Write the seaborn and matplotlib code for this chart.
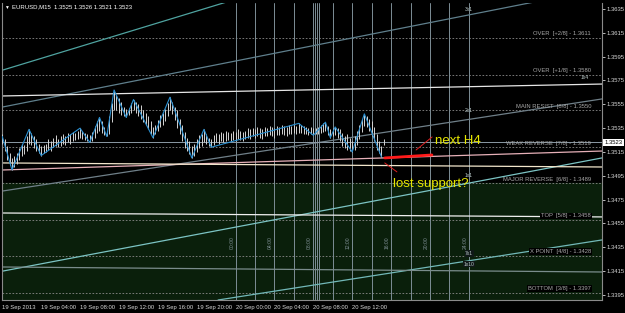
import numpy as np
import pandas as pd
import matplotlib
matplotlib.use("Agg")
import matplotlib.pyplot as plt
import seaborn as sns

# ---------------- data ----------------
header_text = "EURUSD,M15  1.3525 1.3526 1.3521 1.3523"
current_price = 1.3523

bar_high = [1.3530,1.3526,1.3520,1.3514,1.3510,1.3512,1.3514,1.3518,1.3522,1.3521,
            1.3528,1.3534,1.3531,1.3528,1.3526,1.3522,1.3520,1.3521,1.3522,1.3526,
            1.3524,1.3527,1.3529,1.3526,1.3528,1.3530,1.3528,1.3531,1.3530,1.3532,
            1.3531,1.3533,1.3535,1.3533,1.3531,1.3530,1.3529,1.3532,1.3537,1.3541,
            1.3544,1.3541,1.3536,1.3533,1.3545,1.3556,1.3567,1.3563,1.3560,1.3557,
            1.3553,1.3551,1.3552,1.3556,1.3559,1.3557,1.3555,1.3554,1.3550,1.3548,
            1.3545,1.3541,1.3536,1.3538,1.3542,1.3546,1.3548,1.3551,1.3556,1.3561,
            1.3557,1.3553,1.3550,1.3543,1.3538,1.3532,1.3527,1.3524,1.3520,1.3522,
            1.3526,1.3529,1.3530,1.3534,1.3530,1.3527,1.3526,1.3529,1.3531,1.3530,
            1.3532,1.3531,1.3533,1.3532,1.3531,1.3533,1.3532,1.3534,1.3533,1.3532,
            1.3533,1.3535,1.3534,1.3535,1.3534,1.3536,1.3535,1.3534,1.3536,1.3535,
            1.3537,1.3536,1.3535,1.3537,1.3536,1.3538,1.3537,1.3536,1.3538,1.3537,
            1.3538,1.3537,1.3539,1.3538,1.3537,1.3536,1.3535,1.3536,1.3535,1.3535,
            1.3536,1.3538,1.3539,1.3540,1.3537,1.3534,1.3535,1.3536,1.3535,1.3534,
            1.3531,1.3528,1.3530,1.3527,1.3524,1.3528,1.3533,1.3538,1.3543,1.3547,
            1.3545,1.3543,1.3541,1.3536,1.3530,1.3524,1.3520,1.3526]
bar_low = [1.3522,1.3516,1.3508,1.3504,1.3500,1.3502,1.3505,1.3508,1.3512,1.3513,
           1.3516,1.3522,1.3521,1.3518,1.3516,1.3514,1.3512,1.3514,1.3515,1.3517,
           1.3516,1.3519,1.3520,1.3519,1.3520,1.3522,1.3521,1.3523,1.3522,1.3524,
           1.3525,1.3526,1.3527,1.3526,1.3525,1.3524,1.3523,1.3524,1.3527,1.3531,
           1.3533,1.3531,1.3529,1.3528,1.3530,1.3540,1.3550,1.3550,1.3548,1.3546,
           1.3545,1.3544,1.3546,1.3548,1.3550,1.3548,1.3545,1.3543,1.3540,1.3538,
           1.3534,1.3530,1.3527,1.3530,1.3533,1.3536,1.3538,1.3541,1.3545,1.3550,
           1.3547,1.3542,1.3535,1.3530,1.3524,1.3518,1.3516,1.3513,1.3510,1.3512,
           1.3515,1.3518,1.3520,1.3523,1.3522,1.3520,1.3519,1.3521,1.3523,1.3522,
           1.3524,1.3523,1.3524,1.3525,1.3524,1.3525,1.3524,1.3526,1.3525,1.3524,
           1.3526,1.3527,1.3526,1.3528,1.3527,1.3528,1.3527,1.3526,1.3528,1.3528,
           1.3529,1.3528,1.3527,1.3529,1.3529,1.3530,1.3529,1.3528,1.3530,1.3530,
           1.3531,1.3530,1.3531,1.3531,1.3530,1.3530,1.3529,1.3530,1.3529,1.3530,
           1.3530,1.3531,1.3532,1.3533,1.3529,1.3527,1.3528,1.3529,1.3527,1.3524,
           1.3520,1.3518,1.3517,1.3516,1.3515,1.3517,1.3521,1.3526,1.3532,1.3537,
           1.3536,1.3533,1.3528,1.3524,1.3517,1.3514,1.3511,1.3521]

zz_bar = [0, 4, 11, 16, 32, 36, 40, 43, 46, 51, 54, 62, 69, 78, 83, 86,
          122, 128, 133, 135, 137, 144, 149, 156]
zz_price = [1.3528, 1.3500, 1.3534, 1.3512, 1.3535, 1.3523, 1.3544, 1.3528,
            1.3567, 1.3544, 1.3559, 1.3527, 1.3561, 1.3510, 1.3534, 1.3519,
            1.3539, 1.3529, 1.3540, 1.3527, 1.3536, 1.3515, 1.3547, 1.3511]

x_tick_bars = [0, 16, 32, 48, 64, 80, 96, 112, 128, 144]
x_tick_labels = ["19 Sep 2013", "19 Sep 04:00", "19 Sep 08:00", "19 Sep 12:00",
                 "19 Sep 16:00", "19 Sep 20:00", "20 Sep 00:00", "20 Sep 04:00",
                 "20 Sep 08:00", "20 Sep 12:00"]
y_ticks = [1.3635, 1.3615, 1.3595, 1.3575, 1.3555, 1.3535, 1.3515,
           1.3495, 1.3475, 1.3455, 1.3435, 1.3415, 1.3395]

level_names = ["OVER  [+2/8]", "OVER  [+1/8]", "MAIN RESIST  [8/8]",
               "WEAK REVERSE  [7/8]", "MAJOR REVERSE  [6/8]", "TOP  [5/8]",
               "X POINT  [4/8]", "BOTTOM  [3/8]"]
level_prices = [1.3611, 1.3580, 1.3550, 1.3519, 1.3489, 1.3458, 1.3428, 1.3397]
level_boxed = [False, False, False, False, False, True, True, True]
green_zone_top = 1.3489

# vertical time separators (bar index) and their labels
vline_bars = [96, 104, 112, 120, 128, 136, 144, 152, 160, 168, 176, 184, 192]
extra_vline_bars = [128.8, 129.6, 130.4]
vlabel_bars = [96, 112, 128, 144, 160, 176, 192]
vlabel_texts = ["00:00", "04:00", "08:00", "12:00", "16:00", "20:00", "24:00"]
vlabel_price = 1.34386

# trend / gann lines: start bar, start price, end bar, end price, colour
trend_x0 = [0.3, 0.3, 0.3, 0.3, 88.8, 0.3, 0.3, 0.3, 0.3, 0.3]
trend_p0 = [1.35838, 1.35528, 1.34823, 1.34151, 1.33908, 1.35620, 1.34638, 1.34185, 1.34999, 1.35058]
trend_x1 = [93.7, 223.3, 246.8, 246.8, 246.8, 246.8, 246.8, 246.8, 246.8, 246.8]
trend_p1 = [1.36417, 1.36426, 1.35595, 1.35100, 1.34412, 1.35720, 1.34605, 1.34143, 1.35158, 1.35024]
trend_col = ["#4fa3a0", "#5f7f8c", "#6f7f88", "#7cc4c4", "#72b8b8", "#e6e6e6",
             "#f0f0f0", "#7a8c8c", "#e6b0b8", "#f2e6cc"]

gann_label_text = ["3x1", "2x1", "1x1", "1x4", "7x1", "1x10"]
gann_label_bar = [192.1, 192.1, 192.1, 239.8, 192.1, 192.1]
gann_label_price = [1.36342, 1.35494, 1.34949, 1.35779, 1.34298, 1.34207]
gann_label_box = [False, False, False, False, True, True]

h4_x = [157.4, 176.8]
h4_p = [1.35100, 1.35125]
note_texts = ["next H4", "lost support?"]
note_bar = [178.0, 160.8]
note_price = [1.35240, 1.34885]
arrow_from = [(170.3, 1.35167), (157.4, 1.35058)]
arrow_to = [(176.9, 1.35276), (162.4, 1.34983)]

# ---------------- drawing ----------------
sns.set_theme(style="dark")
plt.rcParams["font.family"] = ["Liberation Sans", "DejaVu Sans"]

fig = plt.figure(figsize=(6.25, 3.13), dpi=100, facecolor="black")
ax = fig.add_axes([2 / 625, 13 / 313, 600 / 625, 297 / 313])
ax.set_facecolor("black")

xmin, xmax = -0.12, 246.8
ymin, ymax = 1.33908, 1.36400
ax.set_xlim(xmin, xmax)
ax.set_ylim(ymin, ymax)
ax.grid(False)

# green zone
ax.axhspan(ymin, green_zone_top, color="#0a1f0b", zorder=0)

# level lines
for name, p, boxed in zip(level_names, level_prices, level_boxed):
    ax.axhline(p, color="#8a8a8a", lw=0.6, ls=(0, (2, 2)), zorder=1)
    kw = dict(fontsize=4.2, color="#a8a8a8", ha="right", va="bottom", zorder=6)
    if boxed:
        kw["bbox"] = dict(facecolor="black", edgecolor="none", pad=0.6)
    ax.text(242.3, p + 0.00012, f"{name} - {p:.4f}", **kw)

# vertical separators
for b in vline_bars + extra_vline_bars:
    ax.axvline(b, color="#7d8e96", lw=0.7, zorder=1)
for b, t in zip(vlabel_bars, vlabel_texts):
    ax.text(b - 0.5, vlabel_price, t, rotation=90, fontsize=3.6, color="#7f9096",
            ha="right", va="center", zorder=6)

# trend lines
for x0, p0, x1, p1, c in zip(trend_x0, trend_p0, trend_x1, trend_p1, trend_col):
    sns.lineplot(x=[x0, x1], y=[p0, p1], ax=ax, color=c, lw=0.9, zorder=2)

# bid line
ax.axhline(current_price, color="#8c9aa6", lw=0.7, zorder=2)

# price bars
bars_x = np.arange(len(bar_high))
ax.vlines(bars_x, bar_low, bar_high, color="#d4d4d4", lw=0.7, zorder=3)

# zigzag
zz = pd.DataFrame({"bar": zz_bar, "price": zz_price})
sns.lineplot(data=zz, x="bar", y="price", ax=ax, color="#2a8fd0", lw=0.8,
             sort=False, zorder=4)

# H4 segment and notes
sns.lineplot(x=h4_x, y=h4_p, ax=ax, color="#ff1a1a", lw=2.0, zorder=5)
for (xa, pa), (xb, pb) in zip(arrow_from, arrow_to):
    ax.plot([xa, xb], [pa, pb], color="#e02020", lw=0.7, zorder=5)
for t, b, p in zip(note_texts, note_bar, note_price):
    ax.text(b, p, t, fontsize=9.5, color="#e6e600", ha="left", va="center", zorder=7)

# gann labels
for t, b, p, boxed in zip(gann_label_text, gann_label_bar, gann_label_price, gann_label_box):
    kw = dict(fontsize=3.6, color="#b8c8c8", ha="center", va="center", zorder=7)
    if boxed:
        kw["bbox"] = dict(facecolor="#101818", edgecolor="none", pad=0.4)
    ax.text(b, p, t, **kw)

# axes styling
for s in ["left", "bottom", "right"]:
    ax.spines[s].set_color("#8a8a8a")
    ax.spines[s].set_linewidth(0.8)
ax.spines["top"].set_visible(False)

ax.yaxis.tick_right()
ax.set_yticks(y_ticks)
ax.set_yticklabels([f"{v:.4f}" for v in y_ticks])
ax.tick_params(axis="y", colors="#d8d8d8", labelsize=4.2, length=2, width=0.6, pad=1.5,
               labelright=True, labelleft=False)
ax.set_xticks(x_tick_bars)
ax.set_xticklabels(x_tick_labels)
ax.tick_params(axis="x", colors="#d8d8d8", labelsize=4.2, length=2, width=0.6, pad=1.5)
for lbl in ax.get_xticklabels():
    lbl.set_ha("left")
ax.set_xlabel("")
ax.set_ylabel("")

# current price tag
ax.text(1.004, current_price, f"{current_price:.4f}", transform=ax.get_yaxis_transform(),
        fontsize=4.2, color="black", ha="left", va="center", zorder=8, clip_on=False,
        bbox=dict(facecolor="white", edgecolor="none", pad=0.8))

# header
fig.text(6 / 625, 1 - 7 / 313, "\u25BC", fontsize=3.5, color="white", ha="center", va="center")
fig.text(12 / 625, 1 - 7 / 313, header_text, fontsize=4.3, color="white", ha="left", va="center")

fig.savefig("out.png", dpi=100, facecolor="black")
